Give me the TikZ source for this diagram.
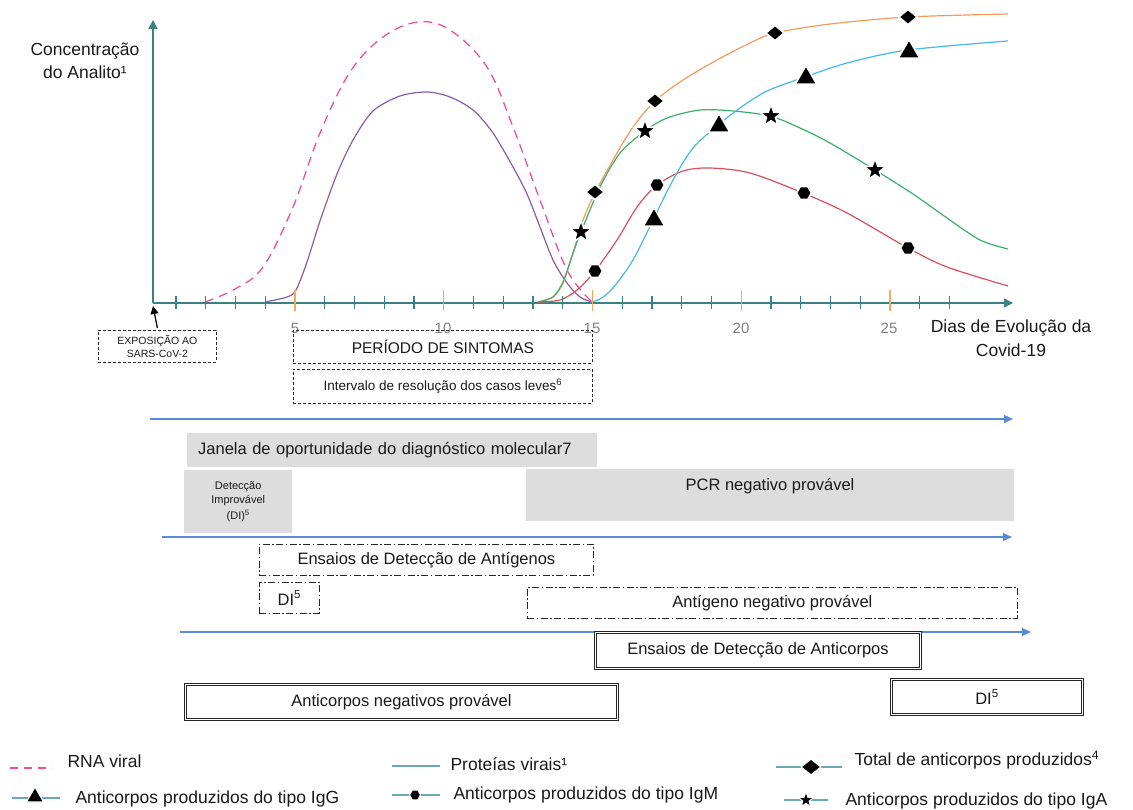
\documentclass[tikz,border=0pt]{standalone}
\usepackage{fontspec}
\setmainfont{Liberation Sans}
\usetikzlibrary{shapes.geometric,arrows.meta}
\definecolor{axisc}{HTML}{3A8282}
\definecolor{tickor}{HTML}{F5A860}
\definecolor{ticklab}{HTML}{7F7F7F}
\definecolor{pinkc}{HTML}{F0509A}
\definecolor{purplec}{HTML}{8A5CA8}
\definecolor{orangec}{HTML}{F39A5E}
\definecolor{bluec}{HTML}{45B8E8}
\definecolor{greenc}{HTML}{3BAE6B}
\definecolor{redc}{HTML}{D9505A}
\definecolor{arrowc}{HTML}{5B8BD6}
\definecolor{grayfill}{HTML}{DDDDDD}
\definecolor{legline}{HTML}{6AAAAA}
\newcommand{\fs}[1]{\fontsize{#1}{#1}\selectfont}
\tikzset{
  axisline/.style={draw=axisc, line width=1.5pt},
  curve/.style={line width=1.2pt},
  mk/.style={fill=black, draw=white, line width=1.6pt, inner sep=0pt},
  mdiam/.style={mk, diamond, minimum width=19pt, minimum height=16pt},
  mtri/.style={mk, regular polygon, regular polygon sides=3, minimum size=25pt},
  mstar/.style={mk, star, star points=5, star point ratio=2.4, minimum size=23pt},
  mhex/.style={mk, regular polygon, regular polygon sides=6, minimum size=15pt},
  dashbox/.style={draw=black!85, line width=0.8pt, dash pattern=on 3pt off 2pt, inner sep=0pt, anchor=north west},
  dotbox/.style={draw=black!85, line width=0.8pt, dash pattern=on 7pt off 2.5pt on 1.5pt off 2.5pt, inner sep=0pt, anchor=north west},
  dbox/.style={draw=black!85, line width=1pt, double=white, double distance=1.6pt, inner sep=0pt, anchor=north west},
  graybox/.style={fill=grayfill, inner sep=0pt, anchor=north west},
  blarrow/.style={draw=arrowc, line width=1.2pt, -{Triangle[length=9pt,width=8pt]}},
  txt/.style={font=\fs{16.5}, text=black!90},
  legtxt/.style={font=\fs{17.5}, anchor=west, text=black!90},
  ticklabel/.style={font=\fs{15}, text=ticklab}
}
\begin{document}
\begin{tikzpicture}[x=1pt,y=-1pt]
\useasboundingbox (0,0) rectangle (1133,809);

% ---------- axes ----------
\coordinate (O) at (153,303);
\coordinate (Ytop) at (153,20);
\coordinate (Xend) at (1013,303);
\draw[axisline, -{Triangle[length=9pt,width=9pt]}] (O) -- (Ytop);
\draw[axisline, -{Triangle[length=9pt,width=9pt]}] (O) -- (Xend);

\node[ticklabel] (t5) at (295,328) {5};
\node[ticklabel] (t10) at (443,328) {10};
\node[ticklabel] (t15) at (592,328) {15};
\node[ticklabel] (t20) at (741,328) {20};
\node[ticklabel] (t25) at (889,328) {25};

\node[font=\fs{17.5}, align=center, text=black!90] (ylab) at (85,61) {Concentração\\[6pt]do Analito¹};
\node[font=\fs{17.5}, align=center, text=black!90] (xlab) at (1011,338) {Dias de Evolução da\\[6pt]Covid-19};

% ---------- curves ----------
\draw[pinkc, curve, line width=1.3pt, dash pattern=on 9pt off 6pt] plot[smooth, tension=0.6] coordinates {
 (205,302) (235,289) (263,267) (293,207) (320,133) (350,72) (383,37) (418,22) (450,30) (487,67) (513,127) (540,200) (567,270) (592,302)};
\draw[purplec, curve] plot[smooth, tension=0.5] coordinates {
 (265,302) (287,297) (296,290) (307,262) (320,221) (337,174) (353,140) (373,111) (400,96) (427,92) (450,97) (473,110) (493,133) (513,167) (527,194) (540,227) (553,260) (567,283) (580,297) (592,302)};
\draw[orangec, curve] plot[smooth, tension=0.5] coordinates {
 (538,302) (553,297) (563,283) (573,253) (583,220) (595,193) (613,160) (633,127) (655,101) (683,80) (717,60) (750,43) (775,33) (830,24) (908,17) (1008,14)};
\draw[greenc, curve] plot[smooth, tension=0.5] coordinates {
 (538,302) (553,297) (563,282) (572,256) (581,232) (600,187) (620,153) (645,131) (667,118) (700,110) (733,111) (770,116) (800,128) (830,143) (875,170) (913,194) (947,218) (980,240) (1008,249)};
\draw[redc, curve] plot[smooth, tension=0.5] coordinates {
 (538,302) (560,300) (577,290) (595,271) (617,240) (637,207) (657,185) (683,171) (710,168) (750,173) (803,193) (847,213) (908,248) (947,267) (1008,286)};
\draw[bluec, curve] plot[smooth, tension=0.5] coordinates {
 (590,302) (600,299) (613,288) (633,260) (653,220) (673,180) (693,148) (718,125) (740,108) (767,91) (805,77) (847,63) (908,50) (1008,41)};

% ticks (drawn over the curves)
\foreach \k in {1,...,27} {
  \pgfmathsetmacro{\xx}{146.25+29.75*\k}
  \pgfmathtruncatemacro{\md}{mod(\k,5)}
  \ifnum\md=0
    \draw[tickor, line width=1.2pt] (\xx,290) -- (\xx,311);
  \else
    \draw[axisc, line width=1.2pt] (\xx,296) -- (\xx,309);
  \fi
}

% markers
\node[mdiam] (d1) at (595,192) {};
\node[mdiam] (d2) at (655,101) {};
\node[mdiam] (d3) at (775,33) {};
\node[mdiam] (d4) at (908,17) {};
\node[mtri] (g1) at (654,220) {};
\node[mtri] (g2) at (719,126) {};
\node[mtri] (g3) at (806,78) {};
\node[mtri] (g4) at (909,52) {};
\node[mstar] (a1) at (581,232) {};
\node[mstar] (a2) at (645,131) {};
\node[mstar] (a3) at (771,116) {};
\node[mstar] (a4) at (875,170) {};
\node[mhex] (m1) at (595,271) {};
\node[mhex] (m2) at (657,185) {};
\node[mhex] (m3) at (804,193) {};
\node[mhex] (m4) at (908,248) {};

% ---------- boxes under the axis ----------
\node[dashbox, minimum width=118pt, minimum height=32pt, align=center, font=\fs{10.5}, text=black!90] (expo) at (98,330) {EXPOSIÇÃO AO\\[2pt]SARS-CoV-2};
\coordinate (expotip) at (153,306);
\draw[black, line width=1.2pt, -{Triangle[length=8pt,width=8pt]}] ([yshift=2pt]expo.north) -- (expotip);

\node[dashbox, minimum width=299pt, minimum height=33pt, font=\fs{15.5}, text=black!90] (sint) at (293,330) {PERÍODO DE SINTOMAS};
\node[dashbox, minimum width=299pt, minimum height=34pt, font=\fs{13.5}, text=black!90] (interv) at (293,369) {Intervalo de resolução dos casos leves\textsuperscript{6}};

\coordinate (a1s) at (150,419);
\coordinate (a1e) at (1013,419);
\draw[blarrow] (a1s) -- (a1e);

\node[graybox, txt, minimum height=34pt, text width=388pt, inner xsep=11pt, align=left] (janela) at (187,433) {Janela de oportunidade do diagnóstico molecular7};
\node[graybox, minimum width=108pt, minimum height=63pt, align=center, font=\fs{11}, text=black!90] (dimol) at (184,470) {Detecção\\[3pt]Improvável\\[3pt](DI)\textsuperscript{5}};
\node[graybox, minimum width=488pt, minimum height=52pt] (pcr) at (526,469) {};
\node[txt] (pcrtxt) at (770,486) {PCR negativo provável};

\coordinate (a2s) at (162,537);
\coordinate (a2e) at (1012,537);
\draw[blarrow] (a2s) -- (a2e);

\node[dotbox, txt, minimum width=334pt, minimum height=31pt] (antig) at (259,544) {Ensaios de Detecção de Antígenos};
\node[dotbox, txt, minimum width=60pt, minimum height=31pt] (diag) at (259,582) {DI\textsuperscript{5}};
\node[dotbox, txt, minimum width=490pt, minimum height=31pt] (agneg) at (527,587) {Antígeno negativo provável};

\coordinate (a3s) at (180,632);
\coordinate (a3e) at (1031,632);
\draw[blarrow] (a3s) -- (a3e);

\node[dbox, txt, minimum width=325pt, minimum height=36pt] (antic) at (595,632) {Ensaios de Detecção de Anticorpos};
\node[dbox, txt, minimum width=432pt, minimum height=35pt] (acneg) at (185,684) {Anticorpos negativos provável};
\node[dbox, txt, minimum width=191pt, minimum height=35pt] (diac) at (891,679) {DI\textsuperscript{5}};

% ---------- legend ----------
\coordinate (l1a) at (10,768); \coordinate (l1b) at (52,768);
\draw[pinkc, line width=1.5pt, dash pattern=on 8pt off 6pt] (l1a) -- (l1b);
\node[legtxt] (l1t) at (64,761) {RNA viral};

\coordinate (l2a) at (12,798); \coordinate (l2b) at (60,798);
\draw[legline, line width=1.2pt] (l2a) -- (l2b);
\node[mtri, minimum size=20pt, line width=1.2pt] (l2m) at (35,797) {};
\node[legtxt] (l2t) at (72,799) {Anticorpos produzidos do tipo IgG};

\coordinate (l3a) at (392,766); \coordinate (l3b) at (440,766);
\draw[legline, line width=1.2pt] (l3a) -- (l3b);
\node[legtxt] (l3t) at (447,764) {Proteías virais¹};

\coordinate (l4a) at (392,795); \coordinate (l4b) at (440,795);
\draw[legline, line width=1.2pt] (l4a) -- (l4b);
\node[mhex, minimum size=11pt, line width=1pt] (l4m) at (415,795) {};
\node[legtxt] (l4t) at (450,795) {Anticorpos produzidos do tipo IgM};

\coordinate (l5a) at (776,767); \coordinate (l5b) at (842,767);
\draw[legline, line width=1.2pt] (l5a) -- (l5b);
\node[mdiam, minimum width=20pt, minimum height=16pt, line width=1pt] (l5m) at (811,767) {};
\node[legtxt] (l5t) at (851,760) {Total de anticorpos produzidos\textsuperscript{4}};

\coordinate (l6a) at (784,800); \coordinate (l6b) at (828,800);
\draw[legline, line width=1.2pt] (l6a) -- (l6b);
\node[mstar, minimum size=16pt, line width=1pt] (l6m) at (806,800) {};
\node[legtxt] (l6t) at (842,801) {Anticorpos produzidos do tipo IgA};
\end{tikzpicture}
\end{document}
